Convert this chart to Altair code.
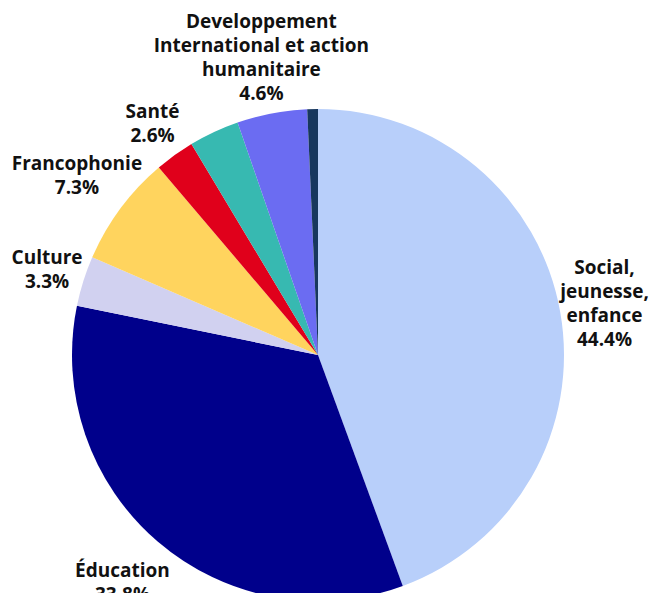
import altair as alt
import pandas as pd

categories = ["Social, jeunesse, enfance", "Éducation", "Culture", "Francophonie",
              "Santé", "Autre", "Developpement International et action humanitaire", "Divers"]
values = [44.4, 33.8, 3.3, 7.3, 2.6, 3.3, 4.6, 0.7]
labels = ["Social,\njeunesse,\nenfance\n44.4%", "Éducation\n33.8%", "Culture\n3.3%",
          "Francophonie\n7.3%", "Santé\n2.6%", "",
          "Developpement\nInternational et action\nhumanitaire\n4.6%", ""]
colors = ["#b8cffa", "#00008b", "#d1d1f0", "#ffd45e", "#e0001b", "#37b9b1", "#6b6cf2", "#17375e"]

df = pd.DataFrame({"cat": categories, "val": values, "label": labels,
                   "ord": list(range(len(categories)))})
df["nlines"] = [len(s.split("\n")) if s else 0 for s in labels]

LH = 24

base = alt.Chart(df).encode(
    theta=alt.Theta("val:Q", stack=True),
    order=alt.Order("ord:Q", sort="ascending"),
    x=alt.value(310), y=alt.value(347),
)

pie = base.mark_arc(outerRadius=246, stroke=None).encode(
    color=alt.Color("cat:N", scale=alt.Scale(domain=categories, range=colors), legend=None)
)

# label groups: (condition, radius, number of lines)
groups = [
    ("datum.ord == 0", 291, 4),
    ("datum.ord == 6", 302, 4),
    ("datum.ord == 1 || datum.ord == 3", 300, 2),
    ("datum.ord == 2 || datum.ord == 4", 284, 2),
]

layers = [pie]
for cond, r, n in groups:
    layers.append(
        base.mark_text(radius=r, font="Open Sans", fontWeight="bold", fontSize=19,
                       lineBreak="\n", lineHeight=LH, color="#111111",
                       align="center", baseline="middle", dy=-(n - 1) * LH / 2)
        .encode(text="label:N", opacity=alt.condition(cond, alt.value(1), alt.value(0)))
    )

chart = alt.layer(*layers).properties(width=643, height=585, padding=0,
                                      autosize=alt.AutoSizeParams(type="none")).configure_view(stroke=None)
chart.save("out.html", embed_options={"renderer": "svg", "actions": False})
